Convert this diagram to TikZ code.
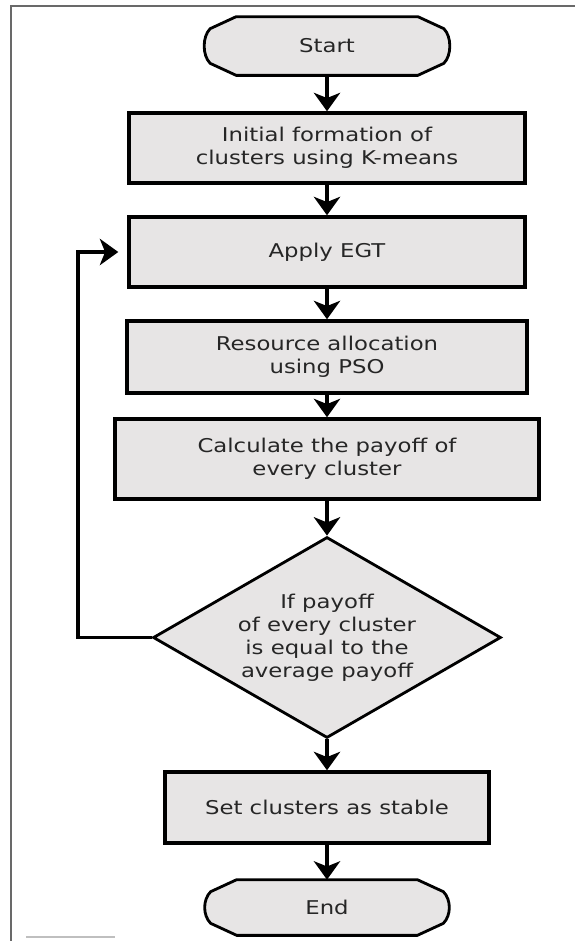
\documentclass[tikz,border=0pt]{standalone}
\usepackage{fontspec}
\setmainfont[FakeStretch=1.2]{DejaVu Sans}
\usetikzlibrary{calc}
\usetikzlibrary{arrows.meta}
\usetikzlibrary{shapes.geometric}

\definecolor{boxfill}{RGB}{231,229,229}
\definecolor{framegray}{RGB}{105,105,105}

\newcommand{\chartfont}{\fontsize{10.8}{13}\selectfont}

\tikzset{
  stepbox/.style={draw, line width=2pt, fill=boxfill, inner sep=0pt, align=center,
    text=black!85, font=\chartfont},
  decision/.style={diamond, aspect=1.73, draw, line width=1.6pt, fill=boxfill,
    inner sep=0pt, align=center, text=black!85, font=\chartfont},
  terminal/.style={inner sep=0pt, text=black!85, font=\chartfont},
  flow/.style={line width=2pt, -{Stealth[length=10.5pt,width=15pt,inset=3pt]}},
}

% outline of a start/end node, drawn round the named node
\newcommand{\terminalline}[1]{%
  \draw[line width=1.6pt, fill=boxfill]
    ($(#1.north west)+(32,0)$) -- ($(#1.north east)+(-32,0)$)
    -- ($(#1.north east)+(-6,12)$)
    .. controls ($(#1.north east)+(2,20)$) and ($(#1.south east)+(2,-20)$) .. ($(#1.south east)+(-6,-12)$)
    -- ($(#1.south east)+(-32,0)$) -- ($(#1.south west)+(32,0)$)
    -- ($(#1.south west)+(6,-12)$)
    .. controls ($(#1.south west)+(-2,-20)$) and ($(#1.north west)+(-2,20)$) .. ($(#1.north west)+(6,12)$)
    -- cycle;}

\begin{document}
\begin{tikzpicture}[x=0.02cm, y=-0.02cm]
\useasboundingbox (0,0) rectangle (575,941);

% page frame
\draw[framegray, line width=1pt] (575,6) -- (11,6) -- (11,941);
\draw[black!25, line width=1pt] (26,937) -- (115,937);

% start
\node[terminal, minimum width=4.9cm, minimum height=1.16cm] (start) at (327,46) {};
\terminalline{start}
\node[terminal] at (start) {Start};

% steps
\node[stepbox, minimum width=7.92cm, minimum height=1.4cm] (init) at (327,148)
  {Initial formation of\\clusters using K-means};
\node[stepbox, minimum width=7.92cm, minimum height=1.4cm] (egt) at (327,252)
  {Apply EGT};
\node[stepbox, minimum width=8cm, minimum height=1.44cm] (pso) at (327,357)
  {Resource allocation\\using PSO};
\node[stepbox, minimum width=8.48cm, minimum height=1.6cm] (payoff) at (327,459)
  {Calculate the payoff of\\every cluster};

% test
\node[decision, minimum width=6.96cm, minimum height=4.02cm] (check) at (327,637.5)
  {If payoff\\of every cluster\\is equal to the\\average payoff};

\node[stepbox, minimum width=6.48cm, minimum height=1.42cm] (stable) at (327,807.5)
  {Set clusters as stable};

% end
\node[terminal, minimum width=4.88cm, minimum height=1.1cm] (finish) at (327,907.5) {};
\terminalline{finish}
\node[terminal] at (finish) {End};

\draw[flow] (start) -- (init);
\draw[flow] (init) -- (egt);
\draw[flow] (egt) -- (pso);
\draw[flow] (pso) -- (payoff);
\draw[flow] (payoff) -- (check);
\draw[flow] (check) -- (stable);
\draw[flow] (stable) -- (finish);

% back to EGT
\draw[flow, line width=2.2pt, shorten >=0.18cm] (check.west) -- ++(-74,0) |- (egt.west);

\end{tikzpicture}
\end{document}
